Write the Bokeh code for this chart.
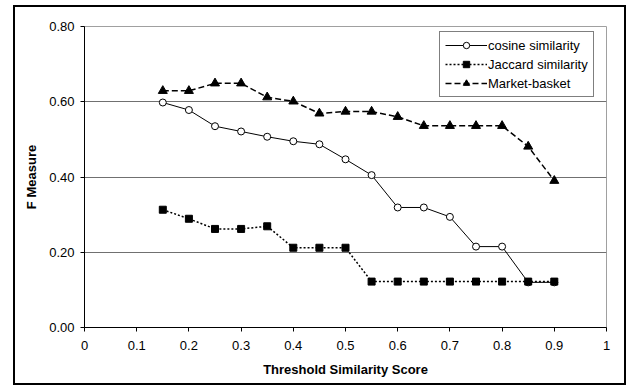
from bokeh.plotting import figure
from bokeh.layouts import row, column
from bokeh.models import Range1d, FixedTicker, Legend, LegendItem, PrintfTickFormatter, CustomJSTickFormatter, Spacer
from bokeh.embed import file_html
from bokeh.resources import INLINE

thresholds = [0.15, 0.2, 0.25, 0.3, 0.35, 0.4, 0.45, 0.5, 0.55, 0.6, 0.65, 0.7, 0.75, 0.8, 0.85, 0.9]
cosine = [0.598, 0.578, 0.535, 0.521, 0.507, 0.495, 0.487, 0.447, 0.405, 0.319, 0.319, 0.294, 0.215, 0.215, 0.12, 0.12]
jaccard = [0.313, 0.289, 0.262, 0.262, 0.269, 0.212, 0.212, 0.212, 0.122, 0.122, 0.122, 0.122, 0.122, 0.122, 0.122, 0.122]
market = [0.629, 0.629, 0.649, 0.649, 0.612, 0.601, 0.569, 0.574, 0.574, 0.560, 0.536, 0.536, 0.536, 0.536, 0.481, 0.390]
x_ticks = [0, 0.1, 0.2, 0.3, 0.4, 0.5, 0.6, 0.7, 0.8, 0.9, 1.0]
y_ticks = [0.0, 0.2, 0.4, 0.6, 0.8]

FONT = "Liberation Sans"

p = figure(width=613, height=380, output_backend="svg", toolbar_location=None,
           x_range=Range1d(0, 1), y_range=Range1d(0, 0.8),
           min_border_left=69, min_border_right=22, min_border_top=19, min_border_bottom=60)
p.styles = {"border": "2px solid black"}
p.background_fill_color = "white"
p.border_fill_color = "white"
p.outline_line_color = "#a0a0a0"
p.outline_line_width = 1

p.xgrid.visible = False
p.ygrid.ticker = FixedTicker(ticks=y_ticks)
p.ygrid.grid_line_color = "#707070"
p.ygrid.grid_line_width = 1

p.xaxis.ticker = FixedTicker(ticks=x_ticks)
p.xaxis.formatter = CustomJSTickFormatter(code="return tick === 0 ? '0' : (tick >= 1 ? '1' : tick.toFixed(1));")
p.yaxis.ticker = FixedTicker(ticks=y_ticks)
p.yaxis.formatter = PrintfTickFormatter(format="%.2f")

for ax in (p.xaxis, p.yaxis):
    ax.axis_line_color = "black"
    ax.axis_line_width = 1
    ax.major_tick_line_color = "black"
    ax.major_tick_in = 0
    ax.major_tick_out = 4
    ax.minor_tick_line_color = None
    ax.major_label_text_font = FONT
    ax.major_label_text_font_size = "13px"
    ax.major_label_text_color = "black"
    ax.axis_label_text_font = FONT
    ax.axis_label_text_font_size = "13px"
    ax.axis_label_text_font_style = "bold"
    ax.axis_label_text_color = "black"

p.xaxis.axis_label = "Threshold Similarity Score"
p.yaxis.axis_label = "F Measure"
p.xaxis.major_label_standoff = 9
p.xaxis.axis_label_standoff = 9
p.yaxis.major_label_standoff = 6
p.yaxis.axis_label_standoff = 7

l1 = p.line(thresholds, cosine, line_color="black", line_width=1)
s1 = p.scatter(thresholds, cosine, marker="circle", size=7, fill_color="white", line_color="black", line_width=1)
l2 = p.line(thresholds, jaccard, line_color="black", line_width=1.5, line_dash="2 2")
s2 = p.scatter(thresholds, jaccard, marker="square", size=7, fill_color="black", line_color="black")
l3 = p.line(thresholds, market, line_color="black", line_width=1.5, line_dash="6 3")
s3 = p.scatter(thresholds, market, marker="triangle", size=9, fill_color="black", line_color="black")

legend = Legend(items=[
    LegendItem(label="cosine similarity", renderers=[l1, s1]),
    LegendItem(label="Jaccard similarity", renderers=[l2, s2]),
    LegendItem(label="Market-basket", renderers=[l3, s3]),
], location=(355, 230))
legend.border_line_color = "black"
legend.border_line_width = 1
legend.background_fill_color = "white"
legend.background_fill_alpha = 1
legend.label_text_font = FONT
legend.label_text_font_size = "13px"
legend.label_text_color = "black"
legend.glyph_width = 42
legend.glyph_height = 16
legend.label_height = 16
legend.label_standoff = 1
legend.spacing = 3
legend.padding = 5
legend.margin = 0
p.add_layout(legend)

layout = column(Spacer(height=5), row(Spacer(width=13), p))

open("out.html", "w").write(file_html(layout, INLINE))
